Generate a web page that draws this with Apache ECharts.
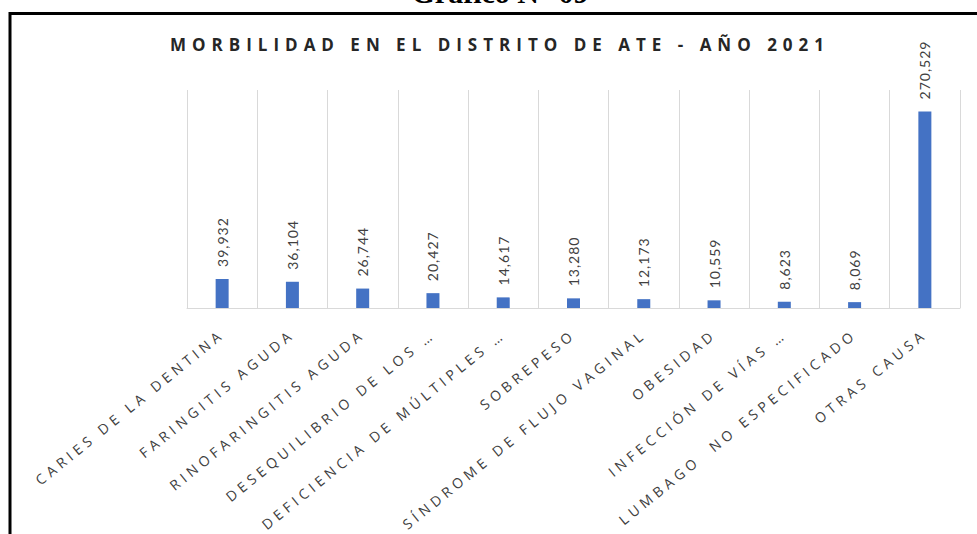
<!DOCTYPE html>
<html>
<head>
<meta charset="utf-8">
<script src="https://cdn.jsdelivr.net/npm/echarts@6/dist/echarts.min.js"></script>
<style>
  html, body { margin: 0; padding: 0; background: #fff; }
  #chart { width: 977px; height: 534px; }
</style>
</head>
<body>
<div id="chart"></div>
<script>
const titleText = 'MORBILIDAD EN EL DISTRITO DE ATE - AÑO 2021'
const captionText = 'Gráfico N° 09'

const causes = [
  'CARIES DE LA DENTINA',
  'FARINGITIS AGUDA',
  'RINOFARINGITIS AGUDA',
  'DESEQUILIBRIO DE LOS …',
  'DEFICIENCIA DE MÚLTIPLES …',
  'SOBREPESO',
  'SÍNDROME DE FLUJO VAGINAL',
  'OBESIDAD',
  'INFECCIÓN DE VÍAS …',
  'LUMBAGO  NO ESPECIFICADO',
  'OTRAS CAUSA',
]
const cases = [39932, 36104, 26744, 20427, 14617, 13280, 12173, 10559, 8623, 8069, 270529]

const dom = document.getElementById('chart')
const chart = echarts.init(dom, null, { renderer: 'svg' })

chart.setOption({
  animation: false,
  graphic: [
    {
      type: 'rect',
      shape: { x: 10, y: 13.5, width: 1000, height: 600 },
      style: { fill: 'none', stroke: '#000', lineWidth: 3 },
    },
    {
      type: 'text',
      x: 500,
      y: 7,
      style: {
        text: captionText,
        font: 'bold 30px "Liberation Serif"',
        fill: '#000',
        align: 'center',
        verticalAlign: 'bottom',
      },
    },
    {
      type: 'text',
      x: 500,
      y: 44,
      style: {
        text: titleText,
        font: 'bold 17px "Open Sans"',
        fill: '#262626',
        align: 'center',
        verticalAlign: 'middle',
      },
    },
  ],
  grid: { left: 187, right: 17, top: 90, bottom: 226 },
  xAxis: {
    type: 'category',
    data: causes,
    axisLine: { lineStyle: { color: '#d9d9d9' } },
    axisTick: { show: false },
    splitLine: { show: true, interval: 0, lineStyle: { color: '#d9d9d9' } },
    axisLabel: {
      interval: 0,
      rotate: 39,
      margin: 24,
      fontSize: 14,
      fontFamily: 'Open Sans',
      color: '#404040',
    },
  },
  yAxis: {
    type: 'value',
    min: 0,
    max: 300000,
    show: false,
  },
  series: [
    {
      type: 'bar',
      data: cases,
      barWidth: 13,
      itemStyle: { color: '#4472c4' },
      label: {
        show: true,
        position: 'top',
        distance: 12,
        rotate: 90,
        align: 'left',
        verticalAlign: 'middle',
        fontSize: 14,
        fontFamily: 'Lato',
        color: '#404040',
        formatter: (p) => p.value.toLocaleString('en-US'),
      },
    },
  ],
})

// letter spacing like the original (svg text takes css letter-spacing)
function spaceText() {
  dom.querySelectorAll('text').forEach((t) => {
    const s = t.textContent
    if (s === titleText) t.style.letterSpacing = '6px'
    else if (s === captionText) t.style.letterSpacing = '0px'
    else if (/^[\d,]+$/.test(s)) t.style.letterSpacing = '1px'
    else t.style.letterSpacing = '4.4px'
  })
}
spaceText()
chart.on('finished', spaceText)
</script>
</body>
</html>
